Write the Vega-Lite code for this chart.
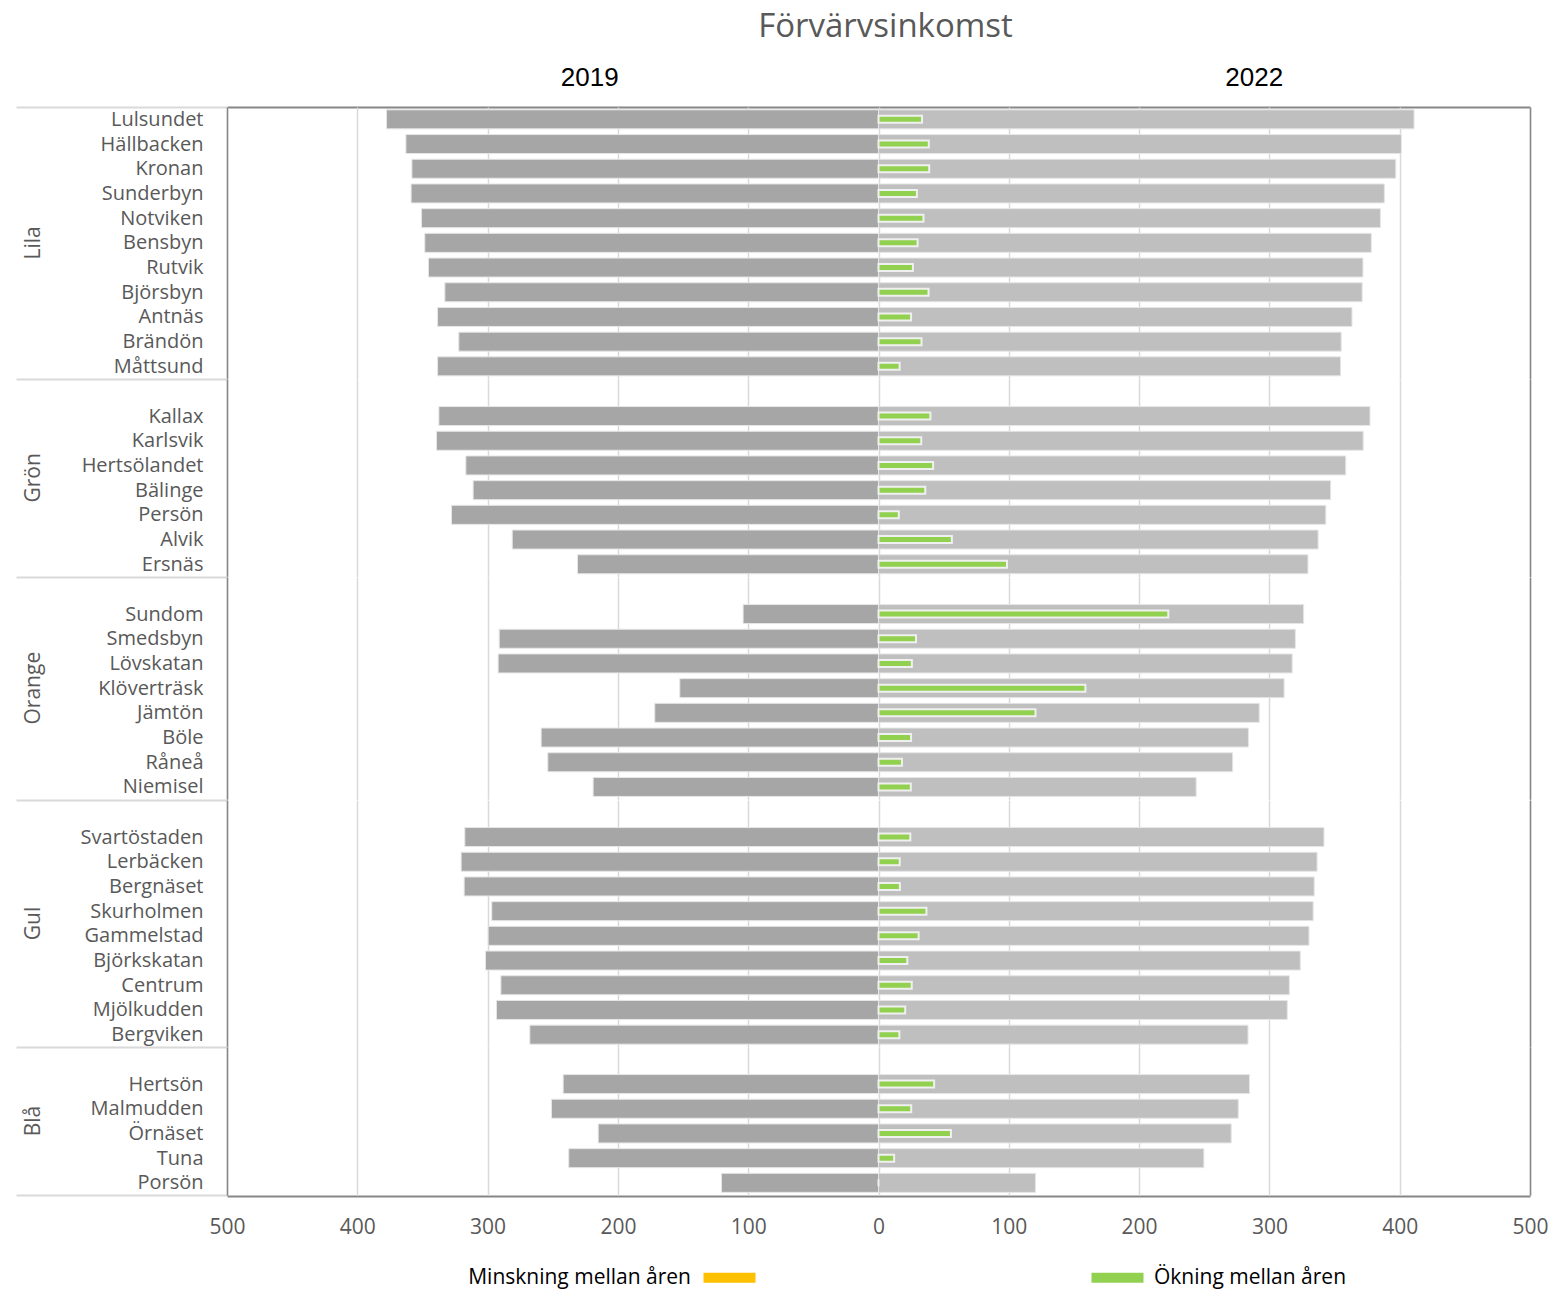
{
  "$schema": "https://vega.github.io/schema/vega-lite/v6.json",
  "background": "white",
  "padding": {"left": 15, "right": 15, "top": 11, "bottom": 8},
  "title": {"text": "Förvärvsinkomst", "font": "Open Sans", "fontSize": 33, "fontWeight": "normal", "color": "#595959", "anchor": "middle", "dx": 104, "offset": 20},
  "data": {"values": [
    {"grupp": "Lila", "omrade": "Lulsundet", "ink2019": -377.6, "ink2022": 411.0, "okning": 33.4, "typ": "Ökning mellan åren"},
    {"grupp": "Lila", "omrade": "Hällbacken", "ink2019": -362.7, "ink2022": 401.3, "okning": 38.6, "typ": "Ökning mellan åren"},
    {"grupp": "Lila", "omrade": "Kronan", "ink2019": -358.1, "ink2022": 397.0, "okning": 38.9, "typ": "Ökning mellan åren"},
    {"grupp": "Lila", "omrade": "Sunderbyn", "ink2019": -358.7, "ink2022": 388.2, "okning": 29.5, "typ": "Ökning mellan åren"},
    {"grupp": "Lila", "omrade": "Notviken", "ink2019": -350.7, "ink2022": 385.2, "okning": 34.5, "typ": "Ökning mellan åren"},
    {"grupp": "Lila", "omrade": "Bensbyn", "ink2019": -348.2, "ink2022": 378.2, "okning": 30.0, "typ": "Ökning mellan åren"},
    {"grupp": "Lila", "omrade": "Rutvik", "ink2019": -345.4, "ink2022": 371.8, "okning": 26.4, "typ": "Ökning mellan åren"},
    {"grupp": "Lila", "omrade": "Björsbyn", "ink2019": -332.8, "ink2022": 371.2, "okning": 38.4, "typ": "Ökning mellan åren"},
    {"grupp": "Lila", "omrade": "Antnäs", "ink2019": -338.4, "ink2022": 363.4, "okning": 25.0, "typ": "Ökning mellan åren"},
    {"grupp": "Lila", "omrade": "Brändön", "ink2019": -322.1, "ink2022": 355.1, "okning": 33.0, "typ": "Ökning mellan åren"},
    {"grupp": "Lila", "omrade": "Måttsund", "ink2019": -338.4, "ink2022": 354.6, "okning": 16.2, "typ": "Ökning mellan åren"},
    {"grupp": "Grön", "omrade": " ", "ink2019": null, "ink2022": null, "okning": null, "typ": null},
    {"grupp": "Grön", "omrade": "Kallax", "ink2019": -337.4, "ink2022": 377.2, "okning": 39.8, "typ": "Ökning mellan åren"},
    {"grupp": "Grön", "omrade": "Karlsvik", "ink2019": -339.2, "ink2022": 372.0, "okning": 32.8, "typ": "Ökning mellan åren"},
    {"grupp": "Grön", "omrade": "Hertsölandet", "ink2019": -316.7, "ink2022": 358.6, "okning": 41.9, "typ": "Ökning mellan åren"},
    {"grupp": "Grön", "omrade": "Bälinge", "ink2019": -311.1, "ink2022": 347.0, "okning": 35.9, "typ": "Ökning mellan åren"},
    {"grupp": "Grön", "omrade": "Persön", "ink2019": -327.7, "ink2022": 343.3, "okning": 15.6, "typ": "Ökning mellan åren"},
    {"grupp": "Grön", "omrade": "Alvik", "ink2019": -281.1, "ink2022": 337.4, "okning": 56.3, "typ": "Ökning mellan åren"},
    {"grupp": "Grön", "omrade": "Ersnäs", "ink2019": -231.0, "ink2022": 329.6, "okning": 98.6, "typ": "Ökning mellan åren"},
    {"grupp": "Orange", "omrade": " ", "ink2019": null, "ink2022": null, "okning": null, "typ": null},
    {"grupp": "Orange", "omrade": "Sundom", "ink2019": -103.9, "ink2022": 326.3, "okning": 222.4, "typ": "Ökning mellan åren"},
    {"grupp": "Orange", "omrade": "Smedsbyn", "ink2019": -291.1, "ink2022": 319.9, "okning": 28.8, "typ": "Ökning mellan åren"},
    {"grupp": "Orange", "omrade": "Lövskatan", "ink2019": -291.9, "ink2022": 317.5, "okning": 25.6, "typ": "Ökning mellan åren"},
    {"grupp": "Orange", "omrade": "Klöverträsk", "ink2019": -152.5, "ink2022": 311.3, "okning": 158.8, "typ": "Ökning mellan åren"},
    {"grupp": "Orange", "omrade": "Jämtön", "ink2019": -171.7, "ink2022": 292.2, "okning": 120.5, "typ": "Ökning mellan åren"},
    {"grupp": "Orange", "omrade": "Böle", "ink2019": -258.9, "ink2022": 283.9, "okning": 25.0, "typ": "Ökning mellan åren"},
    {"grupp": "Orange", "omrade": "Råneå", "ink2019": -253.8, "ink2022": 271.8, "okning": 18.0, "typ": "Ökning mellan åren"},
    {"grupp": "Orange", "omrade": "Niemisel", "ink2019": -219.0, "ink2022": 243.8, "okning": 24.8, "typ": "Ökning mellan åren"},
    {"grupp": "Gul", "omrade": " ", "ink2019": null, "ink2022": null, "okning": null, "typ": null},
    {"grupp": "Gul", "omrade": "Svartöstaden", "ink2019": -317.5, "ink2022": 341.9, "okning": 24.4, "typ": "Ökning mellan åren"},
    {"grupp": "Gul", "omrade": "Lerbäcken", "ink2019": -320.3, "ink2022": 336.6, "okning": 16.3, "typ": "Ökning mellan åren"},
    {"grupp": "Gul", "omrade": "Bergnäset", "ink2019": -318.0, "ink2022": 334.4, "okning": 16.4, "typ": "Ökning mellan åren"},
    {"grupp": "Gul", "omrade": "Skurholmen", "ink2019": -296.8, "ink2022": 333.6, "okning": 36.8, "typ": "Ökning mellan åren"},
    {"grupp": "Gul", "omrade": "Gammelstad", "ink2019": -299.6, "ink2022": 330.4, "okning": 30.8, "typ": "Ökning mellan åren"},
    {"grupp": "Gul", "omrade": "Björkskatan", "ink2019": -301.6, "ink2022": 323.7, "okning": 22.1, "typ": "Ökning mellan åren"},
    {"grupp": "Gul", "omrade": "Centrum", "ink2019": -289.8, "ink2022": 315.3, "okning": 25.5, "typ": "Ökning mellan åren"},
    {"grupp": "Gul", "omrade": "Mjölkudden", "ink2019": -293.2, "ink2022": 313.7, "okning": 20.5, "typ": "Ökning mellan åren"},
    {"grupp": "Gul", "omrade": "Bergviken", "ink2019": -267.6, "ink2022": 283.6, "okning": 16.0, "typ": "Ökning mellan åren"},
    {"grupp": "Blå", "omrade": " ", "ink2019": null, "ink2022": null, "okning": null, "typ": null},
    {"grupp": "Blå", "omrade": "Hertsön", "ink2019": -242.0, "ink2022": 284.7, "okning": 42.7, "typ": "Ökning mellan åren"},
    {"grupp": "Blå", "omrade": "Malmudden", "ink2019": -251.0, "ink2022": 276.1, "okning": 25.1, "typ": "Ökning mellan åren"},
    {"grupp": "Blå", "omrade": "Örnäset", "ink2019": -215.1, "ink2022": 270.7, "okning": 55.6, "typ": "Ökning mellan åren"},
    {"grupp": "Blå", "omrade": "Tuna", "ink2019": -237.7, "ink2022": 249.7, "okning": 12.0, "typ": "Ökning mellan åren"},
    {"grupp": "Blå", "omrade": "Porsön", "ink2019": -120.5, "ink2022": 120.5, "okning": 0, "typ": "Ökning mellan åren"}
  ]},
  "facet": {
    "row": {
      "field": "grupp", "type": "nominal", "title": null,
      "sort": ["Lila", "Grön", "Orange", "Gul", "Blå"],
      "header": {"labelAngle": -90, "labelOrient": "left", "labelPadding": 172, "labelFont": "Open Sans", "labelFontSize": 21, "labelColor": "#595959"}
    }
  },
  "spacing": 0,
  "bounds": "flush",
  "resolve": {"scale": {"y": "independent"}},
  "spec": {
    "width": 1303,
    "height": {"step": 24.7},
    "layer": [
      {
        "mark": {"type": "text"},
        "encoding": {
          "y": {"field": "omrade", "type": "nominal", "sort": null, "axis": null},
          "text": {"value": ""}
        }
      },
      {
        "mark": {"type": "bar", "size": 19, "color": "#a6a6a6", "stroke": "#e6e6e6", "strokeWidth": 1},
        "encoding": {
          "y": {
            "field": "omrade", "type": "nominal", "sort": null,
            "scale": {"paddingInner": 0, "paddingOuter": 0},
            "axis": {
              "title": null, "orient": "left",
              "domainColor": "#868686", "domainWidth": 1.5,
              "labelFont": "Open Sans", "labelFontSize": 20, "labelColor": "#595959",
              "tickBand": "extent", "tickSize": 211, "tickWidth": 2,
              "tickColor": {"condition": {"test": "!isValid(datum.value) || datum.value === 'Porsön'", "value": "#d9d9d9"}, "value": "transparent"},
              "labelPadding": -187
            }
          },
          "x": {
            "field": "ink2019", "type": "quantitative",
            "scale": {"domain": [-500, 500], "nice": false, "zero": false},
            "axis": {
              "orient": "bottom", "title": null,
              "values": [-500, -400, -300, -200, -100, 0, 100, 200, 300, 400, 500],
              "labelExpr": "'' + abs(datum.value)", "labelFlush": false,
              "grid": true, "gridColor": "#d9d9d9", "gridWidth": 1.5,
              "ticks": false, "domainColor": "#868686", "domainWidth": 2,
              "labelFont": "Open Sans", "labelFontSize": 21, "labelColor": "#595959", "labelPadding": 20
            }
          }
        }
      },
      {
        "mark": {"type": "bar", "size": 19, "color": "#bfbfbf", "stroke": "#e6e6e6", "strokeWidth": 1},
        "encoding": {
          "y": {
            "field": "omrade", "type": "nominal", "sort": null,
            "axis": {"orient": "right", "title": null, "labels": false, "ticks": false, "domainColor": "#868686", "domainWidth": 1.5}
          },
          "x": {
            "field": "ink2022", "type": "quantitative",
            "axis": {
              "orient": "top", "title": null,
              "values": [-222, 288],
              "labelExpr": "datum.value < 0 ? '2019' : '2022'", "labelFlush": false,
              "grid": false, "ticks": false, "domainColor": "#868686", "domainWidth": 2,
              "labelFont": "Liberation Sans", "labelFontSize": 26, "labelColor": "#000000", "labelPadding": 17
            }
          }
        }
      },
      {
        "mark": {"type": "bar", "size": 7, "stroke": "#f0f0f0", "strokeWidth": 2},
        "encoding": {
          "y": {"field": "omrade", "type": "nominal", "sort": null, "axis": null},
          "x": {"field": "okning", "type": "quantitative", "axis": null},
          "color": {
            "field": "typ", "type": "nominal",
            "scale": {"domain": ["Minskning mellan åren", "Ökning mellan åren"], "range": ["#FFC000", "#92D050"]},
            "legend": {
              "title": null, "orient": "none", "legendX": 492, "legendY": 1160, "direction": "horizontal",
              "labelFont": "Open Sans", "labelFontSize": 21, "labelColor": "#000000", "labelLimit": 400,
              "symbolType": "M-2.6,-0.5H2.6V0.5H-2.6Z", "symbolSize": 400, "symbolStrokeWidth": 0,
              "labelAlign": {"expr": "datum.value === 'Minskning mellan åren' ? 'right' : 'left'"},
              "labelOffset": {"expr": "datum.value === 'Minskning mellan åren' ? -49 : 26"},
              "columnPadding": 335, "padding": 0
            }
          }
        }
      }
    ],
    "resolve": {"axis": {"x": "independent", "y": "independent"}}
  },
  "config": {"view": {"stroke": null}}
}
